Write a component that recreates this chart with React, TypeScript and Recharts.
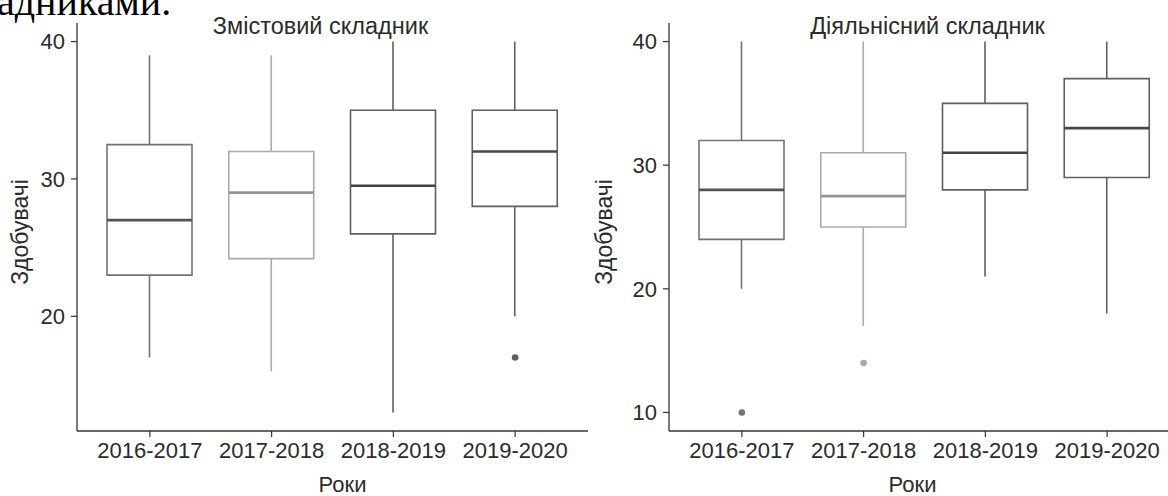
import React from 'react';
import { ComposedChart, Bar, Line, XAxis, YAxis } from 'recharts';

const years = ['2016-2017', '2017-2018', '2018-2019', '2019-2020'];

// Змістовий складник
const contentMin = [17, 16, 13, 20];
const contentQ1 = [23, 24.2, 26, 28];
const contentMedian = [27, 29, 29.5, 32];
const contentQ3 = [32.5, 32, 35, 35];
const contentMax = [39, 39, 40, 40];
const contentOutliers = [null, null, null, 17];
const contentTicks = [20, 30, 40];

// Діяльнісний складник
const activityMin = [20, 17, 21, 18];
const activityQ1 = [24, 25, 28, 29];
const activityMedian = [28, 27.5, 31, 33];
const activityQ3 = [32, 31, 35, 37];
const activityMax = [40, 40, 40, 40];
const activityOutliers = [10, 14, null, null];
const activityTicks = [10, 20, 30, 40];

const boxColors = ['#737373', '#aaaaaa', '#5f5f5f', '#5f5f5f'];
const medianColors = ['#535353', '#949494', '#424242', '#484848'];

const FONT = '"Liberation Sans", Arial, sans-serif';
const TEXT = '#2b2b2b';
const AXIS = '#333333';

type Row = {
	year: string;
	base: number;
	lowWhisker: number;
	lowBox: number;
	highBox: number;
	highWhisker: number;
	outlier: number | null;
};

const buildRows = (
	mins: number[],
	q1s: number[],
	medians: number[],
	q3s: number[],
	maxs: number[],
	outliers: (number | null)[]
): Row[] =>
	years.map((year, i) => ({
		year,
		base: mins[i],
		lowWhisker: q1s[i] - mins[i],
		lowBox: medians[i] - q1s[i],
		highBox: q3s[i] - medians[i],
		highWhisker: maxs[i] - q3s[i],
		outlier: outliers[i],
	}));

const contentRows = buildRows(contentMin, contentQ1, contentMedian, contentQ3, contentMax, contentOutliers);
const activityRows = buildRows(activityMin, activityQ1, activityMedian, activityQ3, activityMax, activityOutliers);

const colorIndex = (payload: any) => Math.max(0, years.indexOf(payload?.year));

const span = (y: number, height: number) => [Math.min(y, y + height), Math.max(y, y + height)];

const HiddenBase = () => <g />;

const WhiskerShape = (props: any) => {
	const { x, y, width, height, payload } = props;
	const [top, bottom] = span(y, height);
	const cx = x + width / 2;
	return <line x1={cx} x2={cx} y1={top} y2={bottom} stroke={boxColors[colorIndex(payload)]} strokeWidth={1.6} />;
};

// lower half of the box: sides and the bottom edge (Q1)
const LowerBoxShape = (props: any) => {
	const { x, y, width, height, payload } = props;
	const [top, bottom] = span(y, height);
	return (
		<path
			d={`M${x},${top} L${x},${bottom} L${x + width},${bottom} L${x + width},${top}`}
			fill='#fff'
			stroke={boxColors[colorIndex(payload)]}
			strokeWidth={1.6}
		/>
	);
};

// upper half of the box: sides, top edge (Q3) and the median at its base
const UpperBoxShape = (props: any) => {
	const { x, y, width, height, payload } = props;
	const [top, bottom] = span(y, height);
	const i = colorIndex(payload);
	return (
		<g>
			<path
				d={`M${x},${bottom} L${x},${top} L${x + width},${top} L${x + width},${bottom}`}
				fill='#fff'
				stroke={boxColors[i]}
				strokeWidth={1.6}
			/>
			<line x1={x} x2={x + width} y1={bottom} y2={bottom} stroke={medianColors[i]} strokeWidth={2.6} />
		</g>
	);
};

const renderOutlier = (props: any) => {
	const { cx, cy, payload, index } = props;
	if (payload?.outlier == null || cy == null || Number.isNaN(cy)) return <g key={`o-${index}`} />;
	return <circle key={`o-${index}`} cx={cx} cy={cy} r={3.3} fill={boxColors[colorIndex(payload)]} />;
};

interface PanelProps {
	rows: Row[];
	domain: [number, number];
	ticks: number[];
	left: number;
	xTitleShift: number;
	yTitleOffset: number;
}

const BoxPanel: React.FC<PanelProps> = ({ rows, domain, ticks, left, xTitleShift, yTitleOffset }) => (
	<div style={{ position: 'absolute', left, top: 0 }}>
		<ComposedChart width={588} height={496} data={rows} margin={{ top: 23, right: 0, bottom: 0, left: 0 }}>
			<XAxis
				dataKey='year'
				height={65}
				padding={{ left: 12, right: 12 }}
				tickSize={6}
				tickMargin={5}
				axisLine={{ stroke: AXIS, strokeWidth: 1.3 }}
				tickLine={{ stroke: AXIS, strokeWidth: 1.2 }}
				tick={{ fill: TEXT, fontSize: 22, fontFamily: FONT }}
				label={{
					value: 'Роки',
					position: 'insideBottom',
					offset: 4,
					dx: xTitleShift,
					fill: TEXT,
					fontSize: 22,
					fontFamily: FONT,
				}}
			/>
			<YAxis
				type='number'
				domain={domain}
				ticks={ticks}
				allowDataOverflow
				width={77}
				tickSize={6}
				tickMargin={6}
				axisLine={{ stroke: AXIS, strokeWidth: 1.3 }}
				tickLine={{ stroke: AXIS, strokeWidth: 1.2 }}
				tick={{ fill: TEXT, fontSize: 22, fontFamily: FONT }}
				label={{
					value: 'Здобувачі',
					angle: -90,
					position: 'insideLeft',
					offset: yTitleOffset,
					dy: 5,
					fill: TEXT,
					fontSize: 23,
					fontFamily: FONT,
					style: { textAnchor: 'middle' },
				}}
			/>
			<Bar dataKey='base' stackId='box' barSize={85} shape={HiddenBase} isAnimationActive={false} />
			<Bar dataKey='lowWhisker' stackId='box' barSize={85} shape={WhiskerShape} isAnimationActive={false} />
			<Bar dataKey='lowBox' stackId='box' barSize={85} shape={LowerBoxShape} isAnimationActive={false} />
			<Bar dataKey='highBox' stackId='box' barSize={85} shape={UpperBoxShape} isAnimationActive={false} />
			<Bar dataKey='highWhisker' stackId='box' barSize={85} shape={WhiskerShape} isAnimationActive={false} />
			<Line
				dataKey='outlier'
				stroke='none'
				dot={renderOutlier}
				activeDot={false}
				legendType='none'
				isAnimationActive={false}
			/>
		</ComposedChart>
	</div>
);

const titleStyle = (center: number): React.CSSProperties => ({
	position: 'absolute',
	left: center,
	top: 15.4,
	transform: 'translateX(-50%)',
	whiteSpace: 'nowrap',
	fontFamily: FONT,
	fontSize: 23.5,
	lineHeight: '23.5px',
	color: TEXT,
});

export default function App() {
	return (
		<div
			style={{
				position: 'fixed',
				left: 0,
				top: 0,
				width: 1168,
				height: 496,
				overflow: 'hidden',
				background: '#fff',
			}}
		>
			{/* tail of the paragraph above the figure */}
			<div
				style={{
					position: 'absolute',
					left: -3,
					top: -18.5,
					fontFamily: '"Liberation Serif", "Times New Roman", serif',
					fontSize: 40,
					lineHeight: '40px',
					color: '#000',
					whiteSpace: 'nowrap',
				}}
			>
				адниками.
			</div>
			<BoxPanel rows={contentRows} domain={[11.65, 41.35]} ticks={contentTicks} left={0} xTitleShift={10} yTitleOffset={20} />
			<BoxPanel rows={activityRows} domain={[8.5, 41.5]} ticks={activityTicks} left={591.5} xTitleShift={-12} yTitleOffset={12} />
			<div style={titleStyle(320.5)}>Змістовий складник</div>
			<div style={titleStyle(927.5)}>Діяльнісний складник</div>
		</div>
	);
}
